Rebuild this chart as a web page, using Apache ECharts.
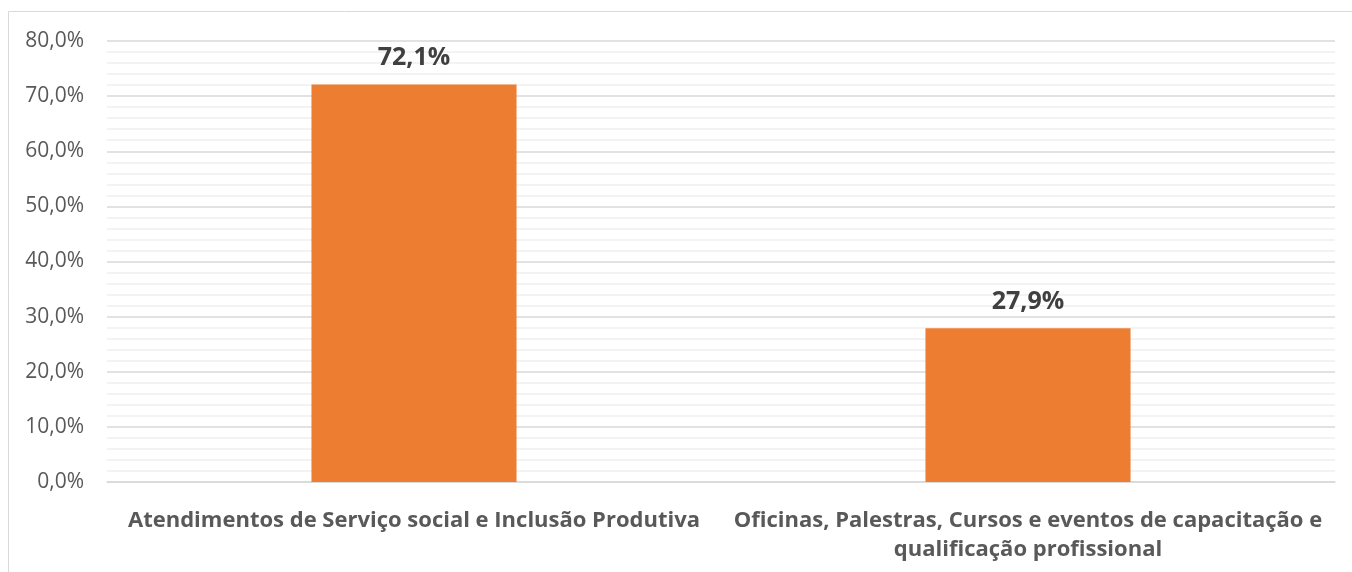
<!DOCTYPE html>
<html>
<head>
<meta charset="utf-8">
<script src="https://cdn.jsdelivr.net/npm/echarts@6/dist/echarts.min.js"></script>
<style>
html,body{margin:0;padding:0;background:#fff;}
#chart{width:1352px;height:572px;}
</style>
</head>
<body>
<div id="chart"></div>
<script>
const categories = [
  "Atendimentos de Serviço social e Inclusão Produtiva",
  "Oficinas, Palestras, Cursos e eventos de capacitação e\nqualificação profissional"
];
const values = [72.1, 27.9];
const yMin = 0, yMax = 80, yInterval = 10;

const FONT = "'Open Sans', sans-serif";
const chart = echarts.init(document.getElementById('chart'));
chart.setOption({
  animation: false,
  backgroundColor: '#ffffff',
  graphic: [{
    type: 'rect',
    shape: { x: 8.5, y: 11.5, width: 1500, height: 700 },
    style: { fill: 'none', stroke: '#d9d9d9', lineWidth: 1 },
    silent: true
  }],
  grid: { left: 107, right: 17, top: 41, bottom: 90 },
  xAxis: {
    type: 'category',
    data: categories,
    axisLine: { show: true, lineStyle: { color: '#d9d9d9', width: 1.5 } },
    axisTick: { show: false },
    axisLabel: {
      interval: 0,
      color: '#595959',
      fontFamily: FONT,
      fontWeight: 'bold',
      fontSize: 22,
      lineHeight: 29,
      margin: 24
    }
  },
  yAxis: {
    type: 'value',
    min: yMin, max: yMax, interval: yInterval,
    axisLine: { show: false },
    axisTick: { show: false },
    axisLabel: {
      color: '#595959',
      fontFamily: FONT,
      fontSize: 21,
      margin: 23,
      formatter: v => v.toFixed(1).replace('.', ',') + '%'
    },
    splitLine: { show: true, lineStyle: { color: '#d9d9d9', width: 1.5 } },
    minorTick: { show: false, splitNumber: 5 },
    minorSplitLine: { show: true, lineStyle: { color: '#f0f0f0', width: 1.5 } }
  },
  series: [{
    type: 'bar',
    data: values,
    barWidth: '33.4%',
    itemStyle: { color: '#ed7d31' },
    label: {
      show: true,
      position: 'top',
      distance: 14,
      color: '#404040',
      fontFamily: FONT,
      fontWeight: 'bold',
      fontSize: 25,
      formatter: p => p.value.toFixed(1).replace('.', ',') + '%'
    }
  }]
});
</script>
</body>
</html>
